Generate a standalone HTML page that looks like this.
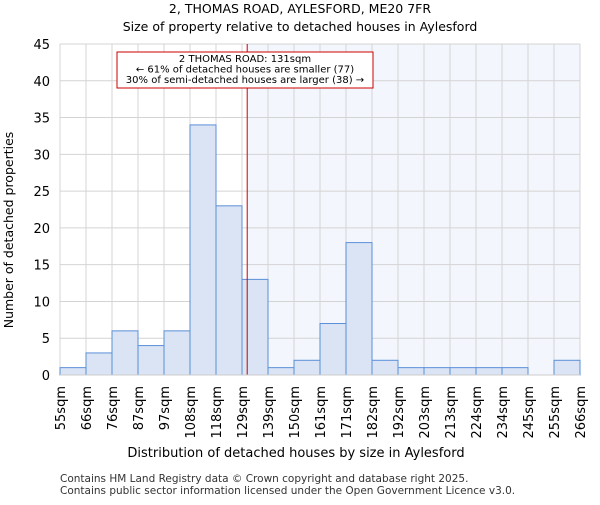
<!DOCTYPE html>
<html><head><meta charset="utf-8"><style>
body{margin:0;background:#fff;font-family:"Liberation Sans","DejaVu Sans",sans-serif}
svg text{font-family:"DejaVu Sans","Liberation Sans",sans-serif}
</style></head><body>
<svg id="c" width="600" height="500" xmlns="http://www.w3.org/2000/svg">
<text x="300" y="13" text-anchor="middle" font-size="12.5">2, THOMAS ROAD, AYLESFORD, ME20 7FR</text>
<text x="300" y="31" text-anchor="middle" font-size="12.5">Size of property relative to detached houses in Aylesford</text>
<g id="plot"></g>
<text x="296" y="457" text-anchor="middle" font-size="13">Distribution of detached houses by size in Aylesford</text>
<text transform="translate(13,230) rotate(-90)" text-anchor="middle" font-size="12.5">Number of detached properties</text>
<text x="60" y="482" font-size="10.5" fill="#333">Contains HM Land Registry data © Crown copyright and database right 2025.</text>
<text x="60" y="494" font-size="10.5" fill="#333">Contains public sector information licensed under the Open Government Licence v3.0.</text>
</svg>
<script>
const edgeLabels=["55sqm","66sqm","76sqm","87sqm","97sqm","108sqm","118sqm","129sqm","139sqm","150sqm","161sqm","171sqm","182sqm","192sqm","203sqm","213sqm","224sqm","234sqm","245sqm","255sqm","266sqm"];
const counts=[1,3,6,4,6,34,23,13,1,2,7,18,2,1,1,1,1,1,0,2];
const yTicks=[0,5,10,15,20,25,30,35,40,45];
const propertyBin=7.2;
const NS="http://www.w3.org/2000/svg";
const X0=60,X1=580,Y0=375,Y1=44,YMAX=45;
const bw=(X1-X0)/counts.length;
const xs=i=>X0+i*bw;
const ys=v=>Y0-(v/YMAX)*(Y0-Y1);
const g=document.getElementById('plot');
function mk(t,a){const e=document.createElementNS(NS,t);for(const k in a)e.setAttribute(k,a[k]);g.appendChild(e);return e;}
const px=xs(propertyBin);
let sh=mk('rect',{x:px,y:Y1,width:X1-px,height:Y0-Y1,fill:'#f3f6fd'});


yTicks.forEach(t=>{
 let l=mk('line',{x1:X0,x2:X1,y1:ys(t),y2:ys(t),stroke:'#d4d4d4','stroke-width':1});
 
 
 let tx=mk('text',{x:X0-10,y:ys(t)+5,'text-anchor':'end','font-size':13});
 tx.textContent=t;
 
 
});
edgeLabels.forEach((lab,i)=>{
 let l=mk('line',{x1:xs(i),x2:xs(i),y1:Y1,y2:Y0,stroke:'#d4d4d4','stroke-width':1});
 
 
 let tx=mk('text',{transform:`translate(${xs(i)+5},386) rotate(-90)`,'text-anchor':'end','font-size':13});
 tx.textContent=lab;
 
 
});
counts.forEach((v,i)=>{
 if(v<=0)return;
 let r=mk('rect',{x:xs(i),y:ys(v),width:bw,height:Y0-ys(v),fill:'#dae4f4',stroke:'#5b8fd8','stroke-width':1});
 
 
});
let pl=mk('line',{x1:px,x2:px,y1:Y1,y2:Y0,stroke:'#c00','stroke-width':1});


let bx=mk('rect',{x:117,y:52,width:256,height:36,fill:'#fff',stroke:'#c00','stroke-width':1});


["2 THOMAS ROAD: 131sqm","← 61% of detached houses are smaller (77)","30% of semi-detached houses are larger (38) →"].forEach((s,i)=>{
 let t=mk('text',{x:245,y:62+i*10.5,'text-anchor':'middle','font-size':10});
 t.textContent=s;
 
 
});
let ax=mk('line',{x1:X0,x2:X1,y1:Y0,y2:Y0,stroke:'#ccc'});


</script>
</body></html>
